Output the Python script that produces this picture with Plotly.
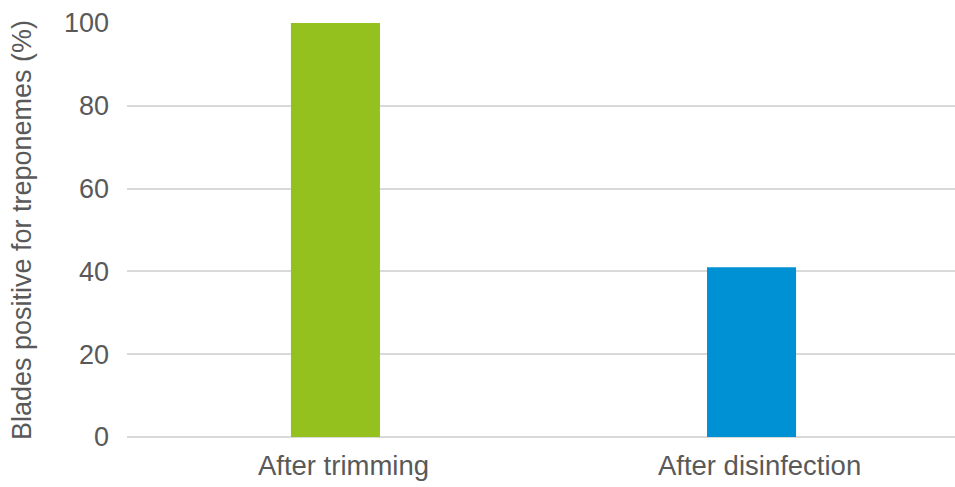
import plotly.graph_objects as go

# Share of blades positive for treponemes at each stage
stages = ["After trimming", "After disinfection"]
positive_pct = [100, 41]
bar_colors = ["#95c11f", "#0090d4"]
y_ticks = [0, 20, 40, 60, 80, 100]

fig = go.Figure(
    go.Bar(
        x=stages,
        y=positive_pct,
        marker=dict(color=bar_colors, line=dict(width=0)),
        width=0.214,
        hoverinfo="x+y",
    )
)

font_family = "Liberation Sans, Arial, sans-serif"
text_gray = "#595959"

fig.update_layout(
    width=955,
    height=487,
    margin=dict(l=127, r=0, t=23, b=50),
    paper_bgcolor="white",
    plot_bgcolor="white",
    showlegend=False,
    font=dict(family=font_family, color=text_gray),
    xaxis=dict(
        range=[-0.501, 1.489],
        showgrid=False,
        showline=False,
        zeroline=False,
        ticks="",
        tickfont=dict(size=27.5, color=text_gray),
        ticklabelstandoff=9,
        ticklabelshift=8,
    ),
    yaxis=dict(
        range=[0, 100],
        tickvals=y_ticks,
        showgrid=True,
        gridcolor="#d9d9d9",
        gridwidth=1.5,
        zeroline=True,
        zerolinecolor="#d9d9d9",
        zerolinewidth=1.5,
        showline=False,
        ticks="",
        tickfont=dict(size=27, color=text_gray),
        ticklabelstandoff=17,
        title=dict(
            text="Blades positive for treponemes (%)",
            font=dict(size=27, color=text_gray),
            standoff=24,
        ),
    ),
)

fig.write_html("out.html")
